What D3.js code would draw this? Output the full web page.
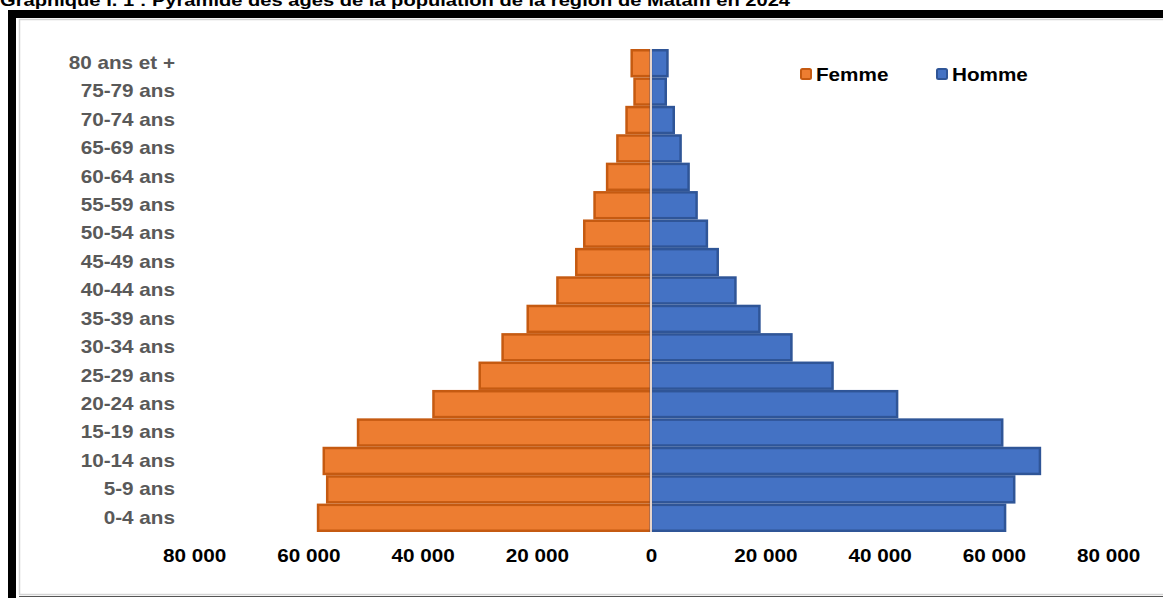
<!DOCTYPE html>
<html>
<head>
<meta charset="utf-8">
<script src="https://cdn.jsdelivr.net/npm/d3@7"></script>
<style>
  body { margin: 0; background: #fff; }
  svg { display: block; font-family: "Liberation Sans", Arial, sans-serif; }
</style>
</head>
<body>
<svg id="chart" width="1163" height="598"></svg>
<script>
const ageGroups = ["80 ans et +", "75-79 ans", "70-74 ans", "65-69 ans", "60-64 ans", "55-59 ans",
  "50-54 ans", "45-49 ans", "40-44 ans", "35-39 ans", "30-34 ans", "25-29 ans", "20-24 ans",
  "15-19 ans", "10-14 ans", "5-9 ans", "0-4 ans"];
const femme = [3600, 3100, 4500, 6100, 7900, 10100, 11900, 13300, 16600, 21800, 26200, 30200,
  38300, 51500, 57500, 56900, 58500];
const homme = [3100, 2800, 4200, 5400, 6800, 8200, 10000, 11900, 15000, 19200, 24800, 32000,
  43300, 61700, 68300, 63800, 62200];
const xTicks = [-80000, -60000, -40000, -20000, 0, 20000, 40000, 60000, 80000];
const titleText = "Graphique I. 1 : Pyramide des âges de la population de la région de Matam en 2024";

const COLORS = {
  femme: "#ED7D31", femmeStroke: "#C55A11",
  homme: "#4472C4", hommeStroke: "#2F5597",
  label: "#595959"
};
const stretch = "scale(1.15,1)";
const fontSize = "18px";

const svg = d3.select("#chart");

// title, cut off by the top of the picture (as in the source)
svg.append("text")
    .attr("x", 0).attr("y", 6)
    .attr("textLength", 790).attr("lengthAdjust", "spacingAndGlyphs")
    .style("font-size", "16px").style("font-weight", "bold")
    .text(titleText);

// frame
svg.append("rect").attr("x", 8).attr("y", 10).attr("width", 1155).attr("height", 8).attr("fill", "#000");
svg.append("rect").attr("x", 8).attr("y", 10).attr("width", 8).attr("height", 588).attr("fill", "#000");
svg.append("rect").attr("x", 19.5).attr("y", 19.5).attr("width", 1150).attr("height", 575)
    .attr("fill", "none").attr("stroke", "#d4d4d4").attr("stroke-width", 1.5);
svg.append("line").attr("x1", 19).attr("x2", 1163).attr("y1", 596.5).attr("y2", 596.5)
    .attr("stroke", "#555").attr("stroke-width", 1);

const x = d3.scaleLinear().domain([-80000, 80000]).range([194, 1108]);
const y = d3.scaleBand().domain(ageGroups).range([49, 532]).padding(0);

const rows = ageGroups.map((g, i) => ({ group: g, f: femme[i], h: homme[i] }));
const sw = 2.5;

svg.selectAll(null)
    .data(rows)
    .enter()
    .append("rect")
    .attr("x", d => x(-d.f) + sw / 2)
    .attr("y", d => y(d.group) + sw / 2)
    .attr("width", d => x(0) - x(-d.f) - sw / 2)
    .attr("height", y.bandwidth() - sw)
    .attr("fill", COLORS.femme)
    .attr("stroke", COLORS.femmeStroke)
    .attr("stroke-width", sw);

svg.selectAll(null)
    .data(rows)
    .enter()
    .append("rect")
    .attr("x", x(0))
    .attr("y", d => y(d.group) + sw / 2)
    .attr("width", d => x(d.h) - x(0) - sw / 2)
    .attr("height", y.bandwidth() - sw)
    .attr("fill", COLORS.homme)
    .attr("stroke", COLORS.hommeStroke)
    .attr("stroke-width", sw);

// zero line
svg.append("line")
    .attr("x1", x(0)).attr("x2", x(0))
    .attr("y1", 49).attr("y2", 532)
    .attr("stroke", "#E6D5CC").attr("stroke-width", 2);

// category axis
const yAxis = svg.append("g")
    .attr("transform", "translate(175,0)")
    .call(d3.axisLeft(y).tickSize(0).tickPadding(0));
yAxis.select("path.domain").remove();
yAxis.selectAll("text")
    .attr("transform", stretch)
    .style("font-size", fontSize).style("font-weight", "bold")
    .style("font-family", "'Liberation Sans', Arial, sans-serif")
    .attr("fill", COLORS.label);

// value axis
const fr = d3.formatLocale({ decimal: ",", thousands: " ", grouping: [3], currency: ["", " €"] });
const fmt = fr.format(",d");
const xAxis = svg.append("g")
    .attr("transform", "translate(0,544)")
    .call(d3.axisBottom(x).tickValues(xTicks).tickSize(0).tickPadding(0)
        .tickFormat(v => fmt(Math.abs(v))));
xAxis.select("path.domain").remove();
xAxis.selectAll("text")
    .attr("transform", stretch)
    .attr("dy", "1.0em")
    .style("font-size", fontSize).style("font-weight", "bold")
    .style("font-family", "'Liberation Sans', Arial, sans-serif")
    .attr("fill", "#000");

// legend
const legend = [
  { name: "Femme", fill: COLORS.femme, stroke: COLORS.femmeStroke, x: 800 },
  { name: "Homme", fill: COLORS.homme, stroke: COLORS.hommeStroke, x: 936 }
];
const lg = svg.selectAll(null).data(legend).enter().append("g")
    .attr("transform", d => `translate(${d.x},68)`);
lg.append("rect")
    .attr("x", 1).attr("y", 1).attr("width", 10).attr("height", 10).attr("rx", 1.5)
    .attr("fill", d => d.fill).attr("stroke", d => d.stroke).attr("stroke-width", 2);
lg.append("text")
    .attr("x", 16).attr("y", 13)
    .attr("transform", "translate(16,0) scale(1.15,1) translate(-16,0)")
    .style("font-size", fontSize).style("font-weight", "bold")
    .text(d => d.name);
</script>
</body>
</html>
